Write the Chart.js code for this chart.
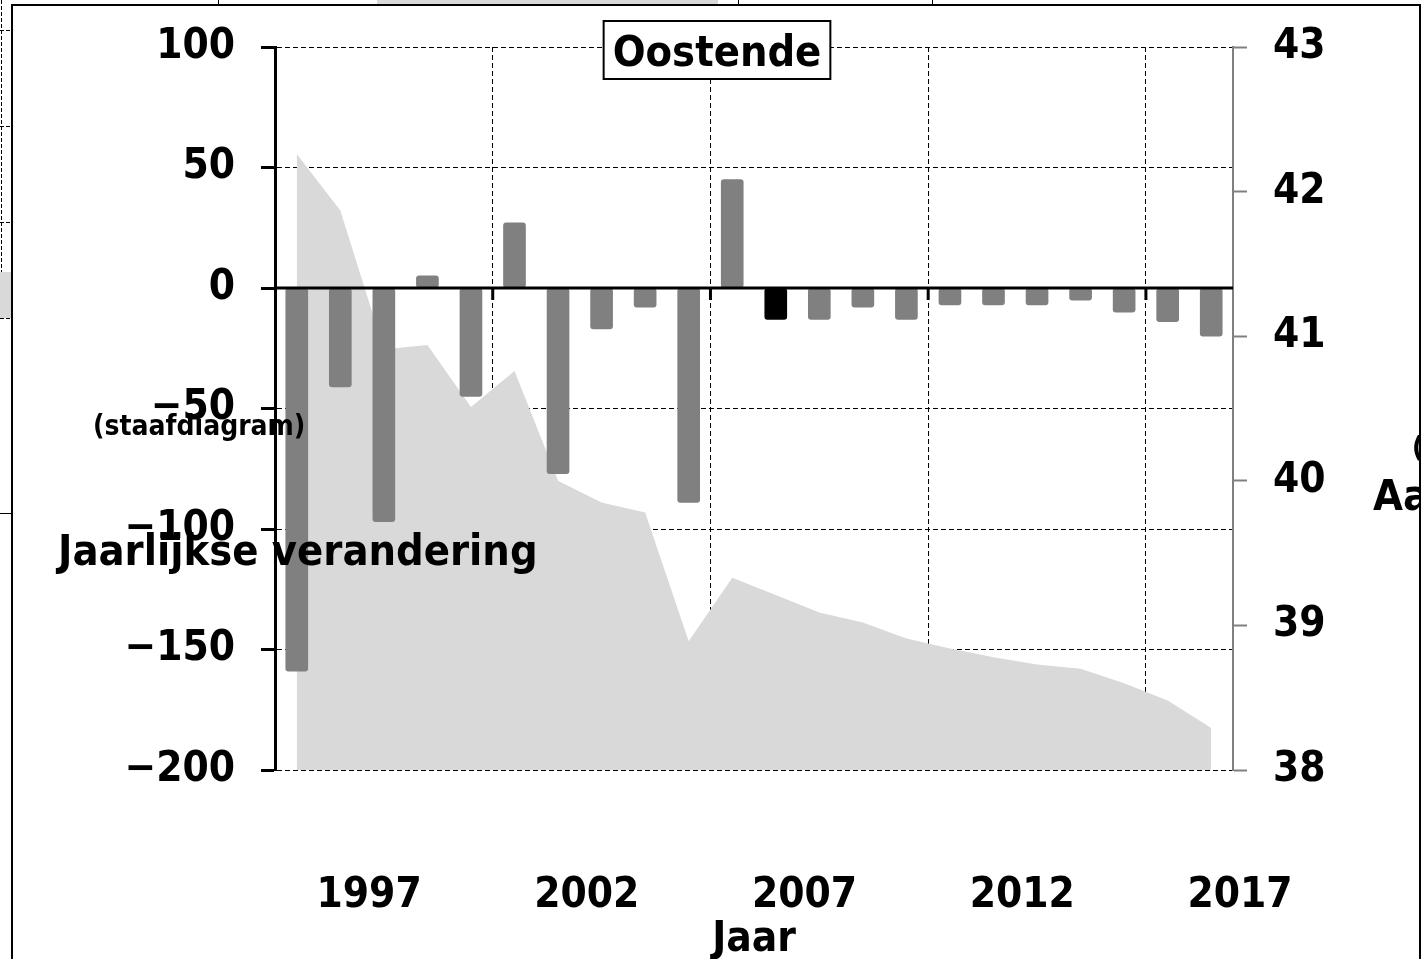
<!DOCTYPE html>
<html lang="nl">
<head>
<meta charset="UTF-8">
<title>Oostende</title>
<script src="https://cdn.jsdelivr.net/npm/chart.js"></script>
<style>
  html, body { margin: 0; padding: 0; background: #fff; }
  #wrap { width: 1423px; height: 959px; position: relative; }
</style>
</head>
<body>
<div id="wrap"><canvas id="chart"></canvas></div>
<script>
// jaren (staaf en vlak staan midden in het jaar)
const years = [1995, 1996, 1997, 1998, 1999, 2000, 2001, 2002, 2003, 2004, 2005,
               2006, 2007, 2008, 2009, 2010, 2011, 2012, 2013, 2014, 2015, 2016];
// jaarlijkse verandering (staafdiagram, linker as)
const changes = [-159, -41, -97, 5, -45, 27, -77, -17, -8, -89, 45,
                 -13, -13, -8, -13, -7, -7, -7, -5, -10, -14, -20];
// niveau (vlakdiagram, rechter as)
const levels = [42.26, 41.87, 40.91, 40.94, 40.51, 40.76, 40.00, 39.85, 39.78, 38.89, 39.33,
                39.21, 39.09, 39.02, 38.91, 38.84, 38.78, 38.73, 38.70, 38.60, 38.48, 38.29];
const highlightYear = 2006;

// as-labels
const labelYears = [1997, 2002, 2007, 2012, 2017];
const gridYears = [2000, 2005, 2010, 2015];
const leftTicks = [-200, -150, -100, -50, 0, 50, 100];
const rightTicks = [38, 39, 40, 41, 42, 43];

const FONT = "'DejaVu Sans Condensed', 'DejaVu Sans', sans-serif";
Chart.defaults.font.family = FONT;
Chart.defaults.color = '#000';

const tickFont = { size: 42, weight: 'bold' };

// nullijn, tekst, titelkader en rand
const overlay = {
  id: 'overlay',
  afterDatasetsDraw(chart) {
    const { ctx, chartArea, scales } = chart;
    const y0 = scales.y.getPixelForValue(0);
    ctx.save();
    ctx.strokeStyle = '#000';
    ctx.lineWidth = 3;
    ctx.beginPath();
    ctx.moveTo(chartArea.left, y0);
    ctx.lineTo(chartArea.right, y0);
    ctx.stroke();
    gridYears.forEach(yr => {
      const x = scales.x.getPixelForValue(yr);
      ctx.beginPath();
      ctx.moveTo(x, y0);
      ctx.lineTo(x, y0 + 12);
      ctx.stroke();
    });
    ctx.restore();
  },
  afterDraw(chart) {
    const ctx = chart.ctx;
    ctx.save();

    // stukjes van de naburige grafieken
    ctx.fillStyle = '#d9d9d9';
    ctx.fillRect(377, 0, 341, 5);
    ctx.fillRect(0, 272, 12, 46);
    ctx.strokeStyle = '#000';
    ctx.lineWidth = 1;
    ctx.setLineDash([4, 2]);
    ctx.beginPath();
    ctx.moveTo(1.5, 0); ctx.lineTo(1.5, 272);
    ctx.moveTo(218.5, 0); ctx.lineTo(218.5, 5);
    [30, 126, 222, 318].forEach(y => { ctx.moveTo(0, y + 0.5); ctx.lineTo(12, y + 0.5); });
    ctx.stroke();
    ctx.setLineDash([]);
    ctx.beginPath();
    ctx.moveTo(738.5, 0); ctx.lineTo(738.5, 5);
    ctx.moveTo(932.5, 0); ctx.lineTo(932.5, 5);
    ctx.moveTo(0, 513.5); ctx.lineTo(12, 513.5);
    ctx.stroke();

    // kader
    ctx.lineWidth = 2;
    ctx.beginPath();
    ctx.moveTo(12, 959); ctx.lineTo(12, 5); ctx.lineTo(1420, 5); ctx.lineTo(1420, 959);
    ctx.stroke();

    // titel in kader
    ctx.font = 'bold 43px ' + FONT;
    const title = 'Oostende';
    const tw = ctx.measureText(title).width;
    const cx = 717;
    ctx.fillStyle = '#fff';
    ctx.fillRect(cx - tw / 2 - 9, 21, tw + 18, 58);
    ctx.strokeRect(cx - tw / 2 - 9, 21, tw + 18, 58);
    ctx.fillStyle = '#000';
    ctx.textAlign = 'center';
    ctx.textBaseline = 'alphabetic';
    ctx.fillText(title, cx, 66);

    // linker astitel
    ctx.textAlign = 'left';
    ctx.font = 'bold 28px ' + FONT;
    ctx.fillText('(staafdiagram)', 93, 435);
    ctx.font = 'bold 43px ' + FONT;
    ctx.fillText('Jaarlijkse verandering', 58, 565);

    // rechter astitel, afgesneden door het kader
    ctx.beginPath();
    ctx.rect(12, 0, 1408, 959);
    ctx.clip();
    ctx.font = 'bold 28px ' + FONT;
    ctx.fillText('(lijndiagram)', 1412, 457);
    ctx.font = 'bold 43px ' + FONT;
    ctx.fillText('Aantal', 1373, 510);
    ctx.restore();
  }
};

const ctx = document.getElementById('chart').getContext('2d');
const chart = new Chart(ctx, {
  type: 'bar',
  data: {
    datasets: [
      {
        type: 'bar',
        label: 'Jaarlijkse verandering',
        data: years.map((y, i) => ({ x: y + 0.5, y: changes[i] })),
        backgroundColor: years.map(y => y === highlightYear ? '#000000' : '#808080'),
        barThickness: 22,
        borderRadius: 3,
        borderSkipped: false,
        xAxisID: 'x',
        yAxisID: 'y',
        order: 1
      },
      {
        type: 'line',
        label: 'Aantal',
        data: years.map((y, i) => ({ x: y + 0.5, y: levels[i] })),
        backgroundColor: '#d9d9d9',
        borderColor: 'rgba(0,0,0,0)',
        borderWidth: 0,
        pointRadius: 0,
        tension: 0,
        fill: 'start',
        xAxisID: 'x',
        yAxisID: 'y2',
        order: 2
      }
    ]
  },
  options: {
    responsive: true,
    maintainAspectRatio: false,
    animation: false,
    layout: { padding: { top: 47, left: 0, right: 0, bottom: 0 } },
    plugins: {
      legend: { display: false },
      tooltip: { enabled: false },
      title: { display: false }
    },
    scales: {
      x: {
        type: 'linear',
        position: 'bottom',
        min: 1995,
        max: 2017,
        offset: false,
        afterBuildTicks: s => {
          s.ticks = labelYears.concat(gridYears).sort((a, b) => a - b).map(v => ({ value: v }));
        },
        afterFit: s => { s.height = 189; },
        grid: {
          offset: false,
          drawTicks: false,
          lineWidth: 1,
          color: c => gridYears.includes(c.tick && c.tick.value) ? '#000' : 'rgba(0,0,0,0)'
        },
        border: { display: false, dash: [5, 3] },
        ticks: {
          autoSkip: false,
          maxRotation: 0,
          padding: 101,
          labelOffset: 7,
          font: tickFont,
          callback: v => labelYears.includes(v) ? String(v) : ''
        },
        title: {
          display: true,
          text: 'Jaar',
          font: { size: 42, weight: 'bold', lineHeight: 0.9 },
          padding: { top: 0, bottom: 0 }
        }
      },
      y: {
        type: 'linear',
        position: 'left',
        min: leftTicks[0],
        max: leftTicks[leftTicks.length - 1],
        afterBuildTicks: s => { s.ticks = leftTicks.map(v => ({ value: v })); },
        afterFit: s => { s.width = 275; s.paddingTop = 0; s.paddingBottom = 0; },
        grid: {
          color: '#000',
          lineWidth: 1,
          tickLength: 14,
          tickWidth: 3,
          tickColor: '#000'
        },
        border: { color: '#000', width: 3, dash: [5, 3] },
        ticks: {
          padding: 26,
          font: tickFont,
          callback: v => String(v).replace('-', '\u2212')
        }
      },
      y2: {
        type: 'linear',
        position: 'right',
        min: rightTicks[0],
        max: rightTicks[rightTicks.length - 1],
        afterBuildTicks: s => { s.ticks = rightTicks.map(v => ({ value: v })); },
        afterFit: s => { s.width = 190; s.paddingTop = 0; s.paddingBottom = 0; },
        grid: {
          drawOnChartArea: false,
          tickLength: 14,
          tickWidth: 2,
          tickColor: '#808080'
        },
        border: { color: '#808080', width: 2 },
        ticks: {
          padding: 26,
          font: tickFont
        }
      }
    }
  },
  plugins: [overlay]
});
</script>
</body>
</html>
